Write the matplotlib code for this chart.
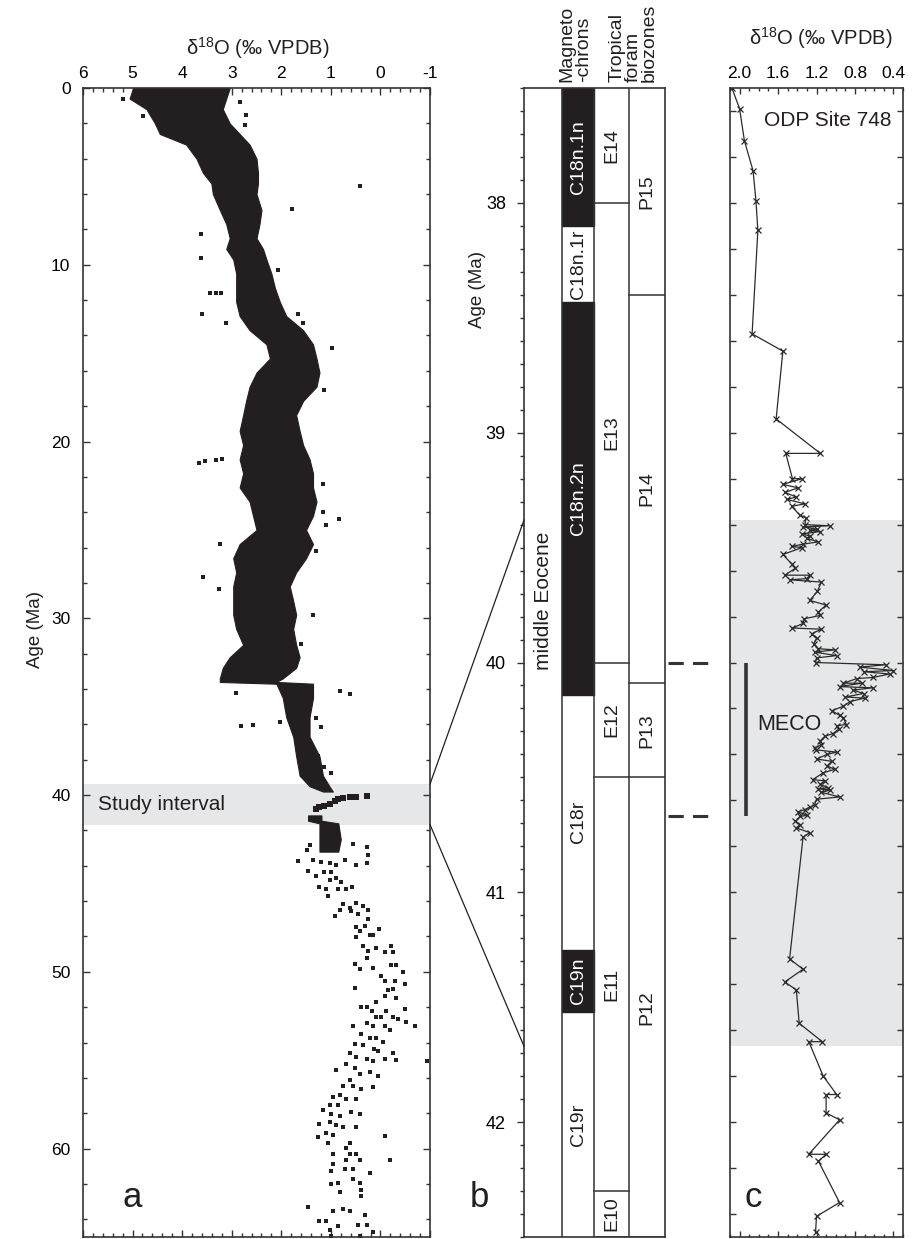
import numpy as np
import matplotlib
matplotlib.use("Agg")
import matplotlib.pyplot as plt
import matplotlib.transforms as mtransforms
from matplotlib.patches import ConnectionPatch, Rectangle
from matplotlib.lines import Line2D
from matplotlib.ticker import MultipleLocator

plt.rcParams['font.family'] = ['Liberation Sans', 'DejaVu Sans']
plt.rcParams['mathtext.fontset'] = 'custom'
plt.rcParams['mathtext.rm'] = 'Liberation Sans'
plt.rcParams['mathtext.default'] = 'regular'
plt.rcParams['axes.unicode_minus'] = False

# ---------------- DATA ----------------
study_interval = (39.38, 41.67)
meco_interval = (40.0, 40.67)

# panel a: dense envelope of the Cenozoic benthic d18O compilation (age, left=high d18O, right=low d18O)
core1_age = [0.0, 0.6, 1.2, 2.0, 2.6, 3.2, 4.0, 4.8, 5.4, 6.0, 6.9, 7.7, 8.5, 9.1, 9.7, 10.5, 11.3, 12.1,
             12.9, 13.7, 14.5, 15.3, 16.1, 16.9, 17.7, 18.5, 19.4, 20.2, 21.0, 21.8, 22.6, 23.4, 24.2, 25.0,
             25.8, 26.6, 27.4, 28.2, 29.0, 29.8, 30.6, 31.5, 32.2, 32.8, 33.4, 33.6, 33.7, 34.5, 35.6, 36.7,
             37.8, 38.9, 39.5, 39.8]
core1_hi = [4.99, 5.06, 4.72, 4.55, 4.45, 3.92, 3.71, 3.58, 3.41, 3.38, 3.24, 3.11, 3.04, 3.11, 2.97, 2.91, 2.91, 2.91,
            2.84, 2.64, 2.30, 2.23, 2.50, 2.64, 2.71, 2.77, 2.84, 2.77, 2.84, 2.77, 2.84, 2.64, 2.57, 2.50,
            2.84, 2.97, 2.91, 2.97, 2.97, 2.97, 2.91, 2.77, 3.04, 3.18, 3.24, 3.24, 2.10, 1.97, 1.90, 1.76,
            1.70, 1.63, 1.43, 1.16]
core1_lo = [3.04, 3.11, 3.18, 3.04, 2.84, 2.64, 2.50, 2.47, 2.47, 2.50, 2.40, 2.44, 2.50, 2.37, 2.30, 2.20, 2.13, 2.03,
            1.90, 1.56, 1.36, 1.29, 1.23, 1.29, 1.56, 1.70, 1.63, 1.56, 1.43, 1.36, 1.36, 1.29, 1.36, 1.50,
            1.36, 1.50, 1.70, 1.83, 1.76, 1.70, 1.76, 1.70, 1.63, 1.70, 1.97, 2.10, 1.36, 1.36, 1.43, 1.43,
            1.23, 1.16, 1.03, 0.96]
core2_age = [41.15, 41.45, 41.6, 42.5, 43.2]
core2_hi = [1.46, 1.46, 1.23, 1.23, 1.23]
core2_lo = [1.19, 1.19, 0.85, 0.80, 0.85]

# panel a: individual points
out_age = [0.60, 1.61, 2.12, 1.51, 0.81, 5.54, 6.85, 8.27, 9.64, 11.59, 11.59, 11.59, 12.80, 13.31, 14.72, 17.10,
           21.21, 21.11, 21.07, 21.01, 24.40, 23.99, 24.70, 22.38, 27.66, 25.81, 28.33, 10.28, 12.80, 13.31,
           26.21, 29.84, 31.45, 34.12, 34.27, 36.10, 36.06, 34.23, 35.85, 35.63, 36.17, 37.79, 38.43, 38.76]
out_val = [5.19, 4.79, 2.74, 2.71, 2.84, 0.42, 1.78, 3.61, 3.61, 3.44, 3.32, 3.21, 3.59, 3.11, 0.97, 1.13,
           3.65, 3.53, 3.32, 3.19, 0.84, 1.16, 1.09, 1.16, 3.58, 3.24, 3.26, 2.07, 1.66, 1.56,
           1.29, 1.36, 1.60, 0.81, 0.62, 2.81, 2.58, 2.91, 2.03, 1.29, 1.19, 1.26, 1.13, 0.99]
spike_age = [40.05, 40.09, 40.11, 40.16, 40.22, 40.33, 40.48, 40.59, 40.70, 40.76]
spike_val = [0.28, 0.49, 0.62, 0.76, 0.86, 0.92, 1.02, 1.13, 1.23, 1.29]
late_age = [42.85, 43.13, 43.71, 43.65, 43.78, 43.86, 43.93, 43.65, 42.79, 42.96,
            43.39, 43.82, 43.93, 44.29, 44.57, 44.36, 44.36, 44.68, 44.79, 44.90,
            45.22, 45.33, 45.33, 45.29, 45.22, 45.72, 46.15, 46.41, 46.10, 46.30,
            46.51, 46.84, 46.58, 46.75, 46.51, 46.99, 47.44, 47.38, 47.70, 47.92,
            47.59, 48.02, 47.92, 48.56, 48.82, 48.67, 48.89, 48.56, 48.89, 49.53,
            49.21, 49.85, 49.81, 49.64, 49.64, 50.03, 50.24, 50.50, 50.50, 50.67,
            51.04, 50.98, 50.93, 51.36, 51.47, 51.97, 51.97, 51.69, 52.23, 52.23,
            52.12, 52.55, 52.55, 52.55, 52.66, 52.83, 53.09, 53.09, 52.87, 53.09,
            53.09, 53.30, 53.52, 53.73, 53.73, 53.95, 54.06, 54.16, 54.38, 54.49,
            54.60, 54.60, 54.81, 54.92, 55.03, 54.92, 54.98, 55.03, 55.57, 55.24,
            55.46, 55.78, 55.67, 55.89, 56.10, 56.43, 56.43, 56.64, 56.54, 57.07,
            56.97, 57.18, 57.18, 57.51, 57.51, 57.83, 58.04, 58.15, 57.94, 58.04,
            58.58, 58.48, 58.69, 58.80, 59.12, 59.34, 59.23, 58.80, 59.27, 59.66,
            59.66, 59.98, 60.31, 60.31, 60.31, 60.67, 60.67, 60.85, 60.63, 61.28,
            61.17, 61.17, 61.39, 61.71, 62.03, 61.92, 61.92, 62.46, 62.35, 62.68,
            63.33, 63.54, 63.43, 63.54, 63.76, 64.08, 64.08, 64.40, 64.30, 64.30,
            64.62, 64.73, 64.94, 64.94]
late_val = [1.43, 1.49, 1.66, 1.36, 1.19, 1.02, 0.89, 0.72, 0.55, 0.28,
            0.25, 0.28, 0.49, 1.46, 1.29, 1.13, 0.99, 0.89, 1.02, 0.79,
            1.23, 1.09, 0.86, 0.69, 0.57, 1.06, 0.76, 0.62, 0.50, 0.35,
            0.82, 0.92, 0.59, 0.45, 0.25, 0.25, 0.49, 0.32, 0.42, 0.22,
            0.02, 0.49, 0.15, 0.35, 0.25, 0.08, -0.09, -0.22, -0.25, 0.52,
            0.28, 0.42, 0.15, -0.22, -0.32, -0.46, -0.02, -0.09, -0.29, -0.49,
            -0.15, -0.25, 0.52, -0.09, -0.32, 0.39, 0.28, 0.08, 0.18, -0.12,
            -0.49, 0.08, -0.02, -0.25, -0.35, -0.51, -0.69, 0.55, 0.28, 0.15,
            -0.09, -0.19, 0.39, 0.22, 0.08, -0.05, 0.52, 0.35, 0.12, 0.05,
            -0.25, 0.62, 0.49, 0.28, 0.15, -0.09, -0.32, -0.93, 0.89, 0.69,
            0.52, 0.42, 0.22, 0.05, 0.62, 0.76, 0.55, 0.39, 0.15, 0.96,
            0.82, 0.69, 0.49, 1.02, 0.86, 1.16, 0.99, 0.82, 0.59, 0.42,
            1.23, 1.02, 0.89, 0.76, 1.09, 1.26, 0.96, 0.49, -0.09, 1.06,
            0.62, 0.69, 0.96, 0.62, 0.49, 0.42, 0.69, 0.96, -0.19, 0.99,
            0.72, 0.55, 0.22, 0.55, 0.99, 0.86, 0.42, 0.82, 0.39, 0.39,
            1.46, 0.96, 0.76, 0.62, 0.32, 1.23, 1.09, 0.86, 0.45, 0.28,
            1.02, 0.15, 0.99, 0.42]

# panel b: magnetochrons and biozones
chron_top = [37.5, 38.10, 38.43, 40.14, 41.25, 41.52]
chron_base = [38.10, 38.43, 40.14, 41.25, 41.52, 42.5]
chron_name = ['C18n.1n', 'C18n.1r', 'C18n.2n', 'C18r', 'C19n', 'C19r']
chron_normal = [True, False, True, False, True, False]
ezone_top = [37.5, 38.0, 40.0, 40.5, 42.3]
ezone_base = [38.0, 40.0, 40.5, 42.3, 42.5]
ezone_name = ['E14', 'E13', 'E12', 'E11', 'E10']
pzone_top = [37.5, 38.4, 40.09, 40.5]
pzone_base = [38.4, 40.09, 40.5, 42.5]
pzone_name = ['P15', 'P14', 'P13', 'P12']

# panel c: ODP Site 748 benthic d18O
c_age = [37.50, 37.59, 37.73, 37.86, 37.99, 38.12, 38.57, 38.645, 38.94, 39.09,
         39.09, 39.20, 39.20, 39.225, 39.24, 39.26, 39.28, 39.29, 39.31, 39.32,
         39.36, 39.37, 39.40, 39.405, 39.41, 39.42, 39.425, 39.43, 39.44, 39.45,
         39.46, 39.475, 39.485, 39.495, 39.50, 39.53, 39.57, 39.59, 39.62, 39.62,
         39.635, 39.64, 39.65, 39.69, 39.73, 39.75, 39.78, 39.795, 39.81, 39.83,
         39.85, 39.855, 39.875, 39.895, 39.92, 39.94, 39.945, 39.955, 39.97, 39.98,
         40.00, 40.01, 40.02, 40.035, 40.04, 40.05, 40.065, 40.07, 40.09, 40.09,
         40.105, 40.11, 40.12, 40.135, 40.15, 40.155, 40.17, 40.19, 40.21, 40.23,
         40.24, 40.27, 40.275, 40.29, 40.31, 40.32, 40.34, 40.36, 40.37, 40.38,
         40.39, 40.40, 40.42, 40.43, 40.45, 40.465, 40.48, 40.51, 40.515, 40.53,
         40.545, 40.55, 40.555, 40.565, 40.585, 40.595, 40.62, 40.63, 40.64, 40.65,
         40.665, 40.67, 40.69, 40.705, 40.72, 40.74, 40.76, 41.29, 41.335, 41.39,
         41.425, 41.57, 41.65, 41.65, 41.80, 41.88, 41.88, 41.96, 41.99, 42.14,
         42.14, 42.17, 42.35, 42.41, 42.48]
c_val = [2.08, 2.00, 1.95, 1.86, 1.83, 1.81, 1.87, 1.55, 1.62, 1.16,
         1.52, 1.45, 1.35, 1.55, 1.39, 1.53, 1.41, 1.51, 1.32, 1.46,
         1.37, 1.31, 1.32, 1.06, 1.34, 1.19, 1.27, 1.16, 1.35, 1.27,
         1.30, 1.18, 1.34, 1.46, 1.35, 1.55, 1.46, 1.42, 1.53, 1.27,
         1.30, 1.48, 1.15, 1.19, 1.27, 1.10, 1.18, 1.16, 1.33, 1.34,
         1.45, 1.15, 1.25, 1.20, 1.23, 1.18, 1.01, 1.22, 0.99, 1.20,
         1.21, 0.48, 0.75, 0.40, 0.71, 0.44, 0.61, 0.78, 0.92, 0.73,
         0.96, 0.61, 0.82, 0.71, 0.90, 0.70, 0.85, 0.92, 1.04, 0.96,
         0.92, 0.89, 0.99, 0.97, 1.03, 1.11, 1.16, 1.15, 1.22, 1.21,
         0.99, 1.09, 1.20, 1.04, 1.09, 1.01, 1.13, 1.24, 1.11, 1.16,
         1.08, 1.18, 1.06, 1.15, 0.96, 1.20, 1.22, 1.27, 1.32, 1.39,
         1.30, 1.37, 1.42, 1.37, 1.41, 1.27, 1.34, 1.48, 1.34, 1.53,
         1.41, 1.38, 1.14, 1.28, 1.13, 0.99, 1.10, 1.10, 0.96, 1.28,
         1.10, 1.18, 0.96, 1.20, 1.21]

assert len(late_age) == len(late_val)
assert len(out_age) == len(out_val)
assert len(c_age) == len(c_val)
assert len(core1_age) == len(core1_hi) == len(core1_lo)

# ---------------- FIGURE ----------------
W, H = 914, 1239
fig = plt.figure(figsize=(W / 100, H / 100), dpi=100)
INK = '#231f20'
GRAY = '#e6e7e8'


def rect(x0, x1, y0=88, y1=1237):
    return [x0 / W, 1 - y1 / H, (x1 - x0) / W, (y1 - y0) / H]


axa = fig.add_axes(rect(83, 430))
axb = fig.add_axes(rect(524, 665))
axc = fig.add_axes(rect(730, 903))

for ax in (axa, axb, axc):
    for sp in ax.spines.values():
        sp.set_linewidth(1.2)
        sp.set_color('#333333')

# ---- panel a ----
axa.set_xlim(6, -1)
axa.set_ylim(65, 0)
axa.axhspan(study_interval[0], study_interval[1], color=GRAY, lw=0, zorder=0)
axa.fill_betweenx(core1_age, core1_hi, core1_lo, facecolor=INK, edgecolor=INK, lw=0.8, zorder=2)
axa.fill_betweenx(core2_age, core2_hi, core2_lo, facecolor=INK, edgecolor=INK, lw=0.8, zorder=2)
axa.scatter(out_val, out_age, s=5, marker='s', color=INK, lw=0, zorder=2)
axa.scatter(spike_val, spike_age, s=14, marker='s', color=INK, lw=0, zorder=2)
axa.scatter(late_val, late_age, s=5, marker='s', color=INK, lw=0, zorder=2)
axa.text(0.043, np.mean(study_interval), 'Study interval',
         transform=mtransforms.blended_transform_factory(axa.transAxes, axa.transData),
         fontsize=15, va='center', ha='left', color=INK)
axa.xaxis.set_major_locator(MultipleLocator(1))
axa.xaxis.set_minor_locator(MultipleLocator(0.2))
axa.yaxis.set_major_locator(MultipleLocator(10))
axa.yaxis.set_minor_locator(MultipleLocator(2))
axa.tick_params(which='both', direction='in', top=True, bottom=True, left=True, right=True,
                labeltop=True, labelbottom=False, color='#333333', width=1)
axa.tick_params(which='major', length=5, labelsize=12.5)
axa.tick_params(which='minor', length=3)
axa.tick_params(axis='x', pad=5)
axa.tick_params(axis='y', pad=9)
fig.text(258 / W, 1 - 48 / H, 'δ$^{18}$O (‰ VPDB)', fontsize=14.5, ha='center', va='center', color=INK)
fig.text(36 / W, 1 - 630 / H, 'Age (Ma)', fontsize=13.5, rotation=90, ha='center', va='center', color=INK)

# ---- panel b ----
cols = [0.0, 0.27, 0.497, 0.745, 1.0]
axb.set_xlim(0, 1)
axb.set_ylim(42.5, 37.5)
for x in cols[1:-1]:
    axb.axvline(x, color='#333333', lw=1.1)
for t, b, name, nrm in zip(chron_top, chron_base, chron_name, chron_normal):
    if nrm:
        axb.add_patch(Rectangle((cols[1], t), cols[2] - cols[1], b - t, facecolor=INK, edgecolor=INK, lw=1))
    axb.text((cols[1] + cols[2]) / 2, (t + b) / 2, name, rotation=90, ha='center', va='center',
             fontsize=14, color='white' if nrm else INK)
for t, b, name in zip(ezone_top, ezone_base, ezone_name):
    axb.plot([cols[2], cols[3]], [b, b], color='#333333', lw=1.1)
    axb.text((cols[2] + cols[3]) / 2, (t + b) / 2, name, rotation=90, ha='center', va='center',
             fontsize=14, color=INK)
for t, b, name in zip(pzone_top, pzone_base, pzone_name):
    axb.plot([cols[3], cols[4]], [b, b], color='#333333', lw=1.1)
    axb.text((cols[3] + cols[4]) / 2, (t + b) / 2, name, rotation=90, ha='center', va='center',
             fontsize=14, color=INK)
axb.text((cols[0] + cols[1]) / 2, 39.73, 'middle Eocene', rotation=90, ha='center', va='center',
         fontsize=15, color=INK)
axb.set_xticks([])
axb.yaxis.set_major_locator(MultipleLocator(1))
axb.yaxis.set_minor_locator(MultipleLocator(0.1))
axb.tick_params(axis='y', which='both', direction='out', left=True, right=False, color='#333333', width=1)
axb.tick_params(axis='y', which='major', length=5, labelsize=13, pad=8)
axb.tick_params(axis='y', which='minor', length=3.2)
fig.text(478 / W, 1 - 290 / H, 'Age (Ma)', fontsize=13.5, rotation=90, ha='center', va='center', color=INK)
fig.text(575 / W, 1 - 82 / H, 'Magneto\n-chrons', fontsize=14, rotation=90, ha='center', va='bottom',
         multialignment='left', linespacing=0.95, color=INK)
fig.text(633 / W, 1 - 82 / H, 'Tropical\nforam\nbiozones', fontsize=14, rotation=90, ha='center', va='bottom',
         multialignment='left', linespacing=0.95, color=INK)

# ---- panel c ----
axc.set_xlim(2.1, 0.3)
axc.set_ylim(42.5, 37.5)
axc.axhspan(study_interval[0], study_interval[1], color=GRAY, lw=0, zorder=0)
axc.plot(c_val, c_age, color='#2b2b2b', lw=0.9, marker='x', ms=4.5, mew=0.9, zorder=3)
axc.plot([1.93, 1.93], list(meco_interval), color='#333333', lw=2.6, solid_capstyle='butt')
axc.text(1.82, 40.27, 'MECO', fontsize=15.5, ha='left', va='center', color=INK)
axc.text(0.935, 37.64, 'ODP Site 748',
         transform=mtransforms.blended_transform_factory(axc.transAxes, axc.transData),
         fontsize=15, ha='right', va='center', color=INK)
axc.set_xticks([2.0, 1.6, 1.2, 0.8, 0.4])
axc.set_xticklabels(['2.0', '1.6', '1.2', '0.8', '0.4'])
axc.xaxis.set_minor_locator(MultipleLocator(0.1))
axc.yaxis.set_major_locator(MultipleLocator(0.2))
axc.tick_params(which='both', direction='in', top=True, bottom=True, left=True, right=True,
                labeltop=True, labelbottom=False, labelleft=False, color='#333333', width=1)
axc.tick_params(which='major', length=4.5, labelsize=12.5, pad=5)
axc.tick_params(which='minor', length=2.5)
fig.text(821 / W, 1 - 38 / H, 'δ$^{18}$O (‰ VPDB)', fontsize=14.5, ha='center', va='center', color=INK)

# ---- connectors ----
for age in study_interval:
    con = ConnectionPatch(xyA=(-1, age), coordsA=axa.transData, xyB=(0, age), coordsB=axb.transData,
                          color=INK, lw=0.9)
    fig.add_artist(con)
bt = mtransforms.blended_transform_factory(fig.transFigure, axb.transData)
for age in meco_interval:
    fig.add_artist(Line2D([668 / W, 712 / W], [age, age], transform=bt, color='#333333', lw=2.2,
                          linestyle=(0, (5, 3))))

# panel letters
fig.text(123 / W, 1 - 1207 / H, 'a', fontsize=25, ha='left', va='baseline', color=INK)
fig.text(470 / W, 1 - 1207 / H, 'b', fontsize=25, ha='left', va='baseline', color=INK)
fig.text(745 / W, 1 - 1207 / H, 'c', fontsize=25, ha='left', va='baseline', color=INK)

fig.savefig('out.png', dpi=100)
